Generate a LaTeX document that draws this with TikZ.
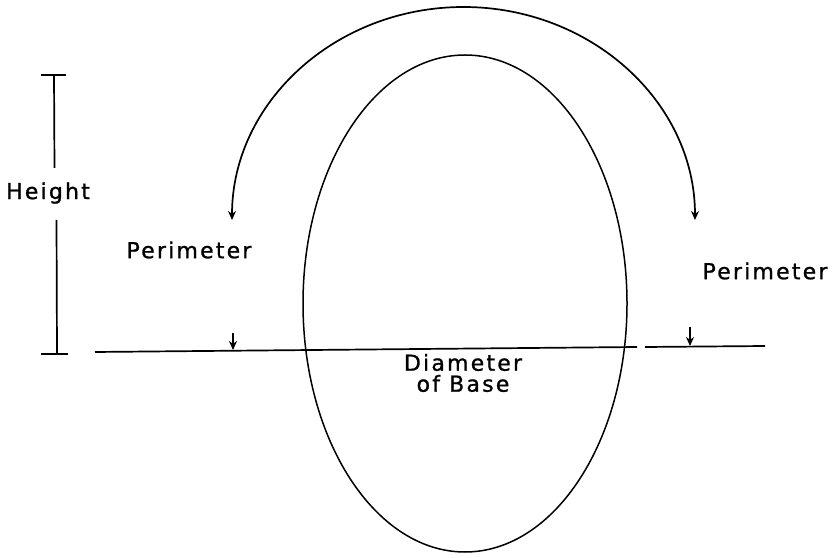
\documentclass[tikz,border=0pt]{standalone}
\usepackage{fontspec}
\setmainfont{DejaVu Sans}[LetterSpace=10,FakeBold=1]
\usetikzlibrary{arrows.meta,shapes.geometric}
\begin{document}
\begin{tikzpicture}[x=1pt,y=1pt,
  every path/.style={line width=1.7pt},
  arrtip/.style={-{Stealth[length=9pt,width=8pt]}},
  lbl/.style={font=\fontsize{22}{24}\selectfont, inner sep=0pt},
  capline/.style={line width=2.2pt}]
\useasboundingbox (0,0) rectangle (832,557);
% ellipse (egg)
\node[ellipse, draw, line width=1.5pt, minimum width=324pt, minimum height=497pt, inner sep=0pt] (egg) at (465,253.5) {};
% outer arc with two arrowheads
\coordinate (aR) at (695,337);
\coordinate (aL) at (232,337);
\draw[{Stealth[length=9pt,width=8pt]}-{Stealth[length=9pt,width=8pt]}] (aR) arc[start angle=0,end angle=180,x radius=231.5,y radius=213];
% height bar
\coordinate (hT) at (54,482);
\coordinate (hB) at (57,203);
\node[lbl] (height) at (48,364) {Height};
\coordinate (hA) at (54.5,389);
\coordinate (hC) at (56.5,337);
\draw[capline] ([xshift=-13pt]hT) -- ([xshift=12pt]hT);
\draw[capline] ([xshift=-16pt]hB) -- ([xshift=11pt]hB);
\draw (hT) -- (hA);
\draw (hC) -- (hB);
% base line
\coordinate (b1) at (95,205);
\coordinate (b2) at (637,210);
\coordinate (b3) at (645,210);
\coordinate (b4) at (765,211);
\draw (b1) -- (b2);
\draw (b3) -- (b4);
% perimeter labels
\node[lbl] (perL) at (189,307) {Perimeter};
\node[lbl] (perR) at (765,286) {Perimeter};
% small arrows
\coordinate (sL) at (233,224);
\coordinate (sLe) at (233,207);
\coordinate (sR) at (690,230);
\coordinate (sRe) at (690,211);
\draw[arrtip] (sL) -- (sLe);
\draw[arrtip] (sR) -- (sRe);
% diameter label
\node[lbl, align=center] (diam) at (463,184) {Diameter\\[-3pt]of Base};
\end{tikzpicture}
\end{document}
